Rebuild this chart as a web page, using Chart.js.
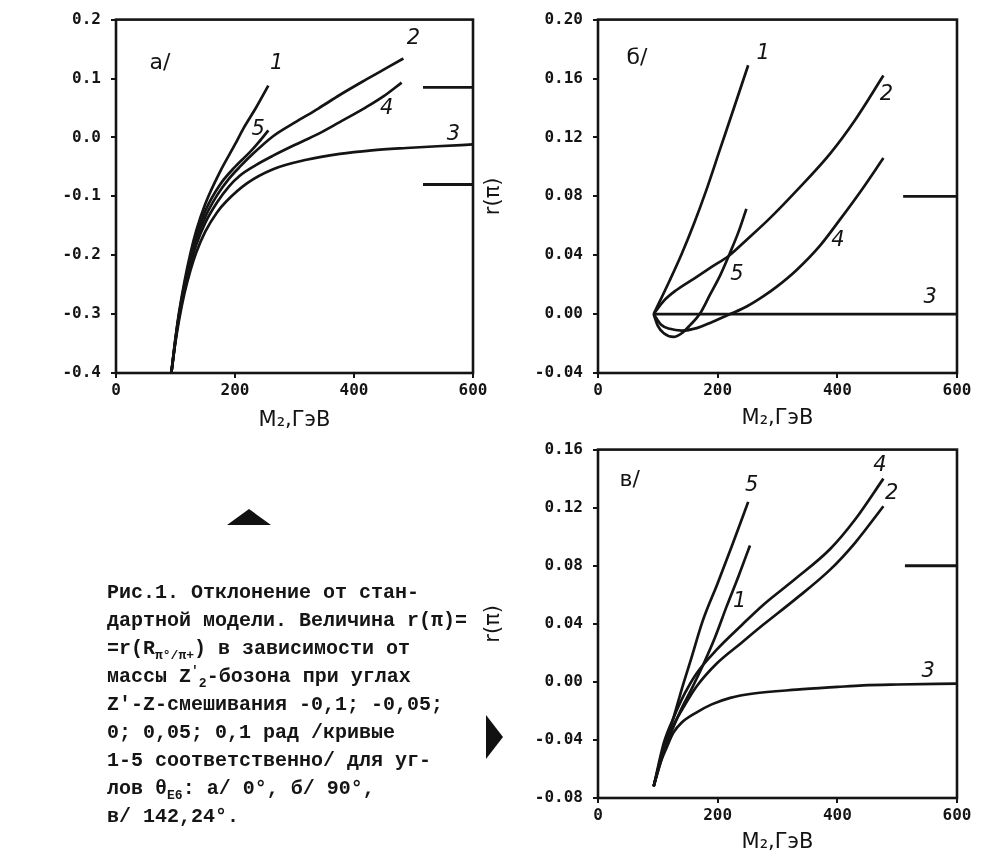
<!DOCTYPE html>
<html><head><meta charset="utf-8">
<script src="https://cdn.jsdelivr.net/npm/chart.js@4/dist/chart.umd.min.js"></script>
<style>
html,body{margin:0;padding:0;background:#fff;}
body{width:984px;height:860px;position:relative;overflow:hidden;}
canvas{position:absolute;}
.cap{position:absolute;left:107px;top:579px;font-family:"Liberation Mono",monospace;font-weight:bold;font-size:20px;line-height:28px;color:#151515;white-space:pre;}
.cap sub,.cap sup{font-size:13px;line-height:0;}
.triU{position:absolute;left:227px;top:509px;width:0;height:0;border-left:22px solid transparent;border-right:22px solid transparent;border-bottom:16px solid #111;}
.triR{position:absolute;left:486px;top:715px;width:0;height:0;border-top:22px solid transparent;border-bottom:22px solid transparent;border-left:17px solid #111;}
</style></head>
<body>
<canvas id="ca" width="500" height="450" style="left:0;top:0"></canvas>
<canvas id="cb" width="503" height="450" style="left:481px;top:0"></canvas>
<canvas id="cc" width="503" height="430" style="left:481px;top:430px"></canvas>
<div class="triU"></div>
<div class="triR"></div>
<div class="cap">Рис.1. Отклонение от стан-
дартной модели. Величина r(π)=
=r(R<sub>π°/π+</sub>) в зависимости от
массы Z<sup>′</sup><sub>2</sub>-бозона при углах
Z′-Z-смешивания -0,1; -0,05;
0; 0,05; 0,1 рад /кривые
1-5 соответственно/ для уг-
лов θ<sub>E6</sub>: а/ 0°, б/ 90°,
в/ 142,24°.</div>
<script>
// ---------- ticks ----------
const X_TICKS = [0, 200, 400, 600];
const Y_TICKS_A = [-0.4, -0.3, -0.2, -0.1, 0.0, 0.1, 0.2];
const Y_TICKS_B = [-0.04, 0.00, 0.04, 0.08, 0.12, 0.16, 0.20];
const Y_TICKS_C = [-0.08, -0.04, 0.00, 0.04, 0.08, 0.12, 0.16];

// ---------- panel а ----------
const a1M = [93, 100, 106, 115, 125, 135, 150, 175, 200, 214, 235, 256];
const a1R = [-0.40, -0.34, -0.297, -0.245, -0.197, -0.158, -0.113, -0.058, -0.012, 0.015, 0.05, 0.088];
const a2M = [93, 100, 106, 115, 125, 135, 150, 170, 190, 210, 231, 264, 300, 340, 376, 420, 455, 483];
const a2R = [-0.40, -0.343, -0.302, -0.254, -0.21, -0.174, -0.135, -0.098, -0.07, -0.048, -0.027, 0.002, 0.025, 0.049, 0.072, 0.098, 0.118, 0.134];
const a3M = [93, 100, 106, 115, 125, 135, 150, 170, 186, 220, 264, 320, 376, 430, 488, 540, 600];
const a3R = [-0.40, -0.347, -0.31, -0.265, -0.226, -0.195, -0.16, -0.127, -0.108, -0.078, -0.054, -0.038, -0.028, -0.022, -0.018, -0.015, -0.012];
const a4M = [93, 100, 106, 115, 125, 135, 150, 170, 190, 208, 235, 264, 300, 340, 376, 420, 450, 480];
const a4R = [-0.40, -0.345, -0.305, -0.258, -0.216, -0.182, -0.145, -0.11, -0.083, -0.065, -0.047, -0.031, -0.013, 0.006, 0.026, 0.051, 0.070, 0.093];
const a5M = [93, 100, 106, 115, 125, 135, 150, 175, 200, 225, 240, 256];
const a5R = [-0.40, -0.342, -0.30, -0.25, -0.205, -0.168, -0.125, -0.08, -0.05, -0.025, -0.008, 0.012];
const aMarkM = [516, 600];
const aMarkR = [0.085, -0.08];
const aLabText = ['1', '2', '3', '4', '5'];
const aLabM = [270, 500, 567, 455, 239];
const aLabR = [0.125, 0.167, 0.004, 0.049, 0.013];
const aPanel = ['а/', 74, 0.125];

// ---------- panel б ----------
const b1M = [93, 120, 140, 160, 180, 204, 228, 251];
const b1R = [0.0, 0.023, 0.041, 0.061, 0.083, 0.112, 0.141, 0.169];
const b2M = [93, 110, 130, 160, 190, 220, 250, 287, 330, 388, 430, 477];
const b2R = [0.0, 0.009, 0.016, 0.024, 0.032, 0.040, 0.051, 0.065, 0.083, 0.109, 0.132, 0.162];
const b3M = [93, 600];
const b3R = [0.0, 0.0];
const b4M = [93, 105, 120, 140, 165, 190, 221, 250, 276, 300, 332, 370, 404, 440, 477];
const b4R = [0.0, -0.007, -0.010, -0.0112, -0.0095, -0.0055, 0.0, 0.0055, 0.012, 0.019, 0.030, 0.046, 0.064, 0.084, 0.106];
const b5M = [93, 100, 110, 126, 140, 155, 170, 187, 205, 220, 235, 248];
const b5R = [0.0, -0.008, -0.013, -0.0155, -0.013, -0.007, 0.0, 0.013, 0.027, 0.041, 0.056, 0.0715];
const bMarkM = [510, 600];
const bMarkR = [0.08];
const bLabText = ['1', '2', '3', '4', '5'];
const bLabM = [276, 482, 555, 401, 232];
const bLabR = [0.177, 0.149, 0.011, 0.05, 0.027];
const bPanel = ['б/', 65, 0.174];

// ---------- panel в ----------
const c1M = [93, 110, 126, 140, 155, 176, 195, 215, 235, 254];
const c1R = [-0.072, -0.048, -0.031, -0.018, -0.006, 0.012, 0.030, 0.052, 0.073, 0.094];
const c2M = [93, 110, 126, 145, 165, 198, 240, 276, 330, 388, 430, 477];
const c2R = [-0.072, -0.045, -0.03, -0.016, -0.003, 0.0125, 0.027, 0.0393, 0.057, 0.0773, 0.096, 0.121];
const c3M = [93, 105, 115, 126, 140, 165, 190, 221, 260, 332, 400, 443, 500, 600];
const c3R = [-0.072, -0.055, -0.045, -0.035, -0.028, -0.021, -0.0155, -0.011, -0.008, -0.0054, -0.0035, -0.0024, -0.0018, -0.0012];
const c4M = [93, 110, 126, 145, 165, 198, 240, 276, 330, 388, 430, 477];
const c4R = [-0.072, -0.042, -0.025, -0.008, 0.006, 0.022, 0.039, 0.053, 0.071, 0.0915, 0.112, 0.140];
const c5M = [93, 110, 126, 140, 155, 175, 200, 225, 251];
const c5R = [-0.072, -0.045, -0.025, -0.005, 0.015, 0.042, 0.068, 0.095, 0.124];
const cMarkM = [513, 600];
const cMarkR = [0.08];
const cLabText = ['1', '2', '3', '4', '5'];
const cLabM = [237, 491, 552, 471, 257];
const cLabR = [0.055, 0.13, 0.007, 0.149, 0.135];
const cPanel = ['в/', 53, 0.139];

// ---------- helpers ----------
const INK = '#141414';
function curve(m, r) {
  return { data: m.map((v, i) => ({ x: v, y: r[i] })), borderColor: INK, borderWidth: 2.7,
    pointRadius: 0, fill: false, tension: 0.4, cubicInterpolationMode: 'monotone' };
}
function mark(m, r) {
  return { data: m.map(v => ({ x: v, y: r })), borderColor: INK, borderWidth: 2.8,
    pointRadius: 0, fill: false, tension: 0 };
}
const boxPlugin = {
  id: 'box',
  afterDraw(chart) {
    const { ctx, chartArea: a } = chart;
    ctx.save(); ctx.strokeStyle = INK; ctx.lineWidth = 2.6;
    ctx.strokeRect(a.left, a.top, a.right - a.left, a.bottom - a.top);
    ctx.restore();
  }
};
const labelPlugin = {
  id: 'curveLabels',
  afterDatasetsDraw(chart, args, o) {
    const { ctx, scales: { x, y } } = chart;
    ctx.save(); ctx.fillStyle = INK; ctx.textAlign = 'center'; ctx.textBaseline = 'middle';
    ctx.font = 'italic 21px "DejaVu Sans"';
    o.texts.forEach((t, i) => ctx.fillText(t, x.getPixelForValue(o.m[i]), y.getPixelForValue(o.r[i])));
    ctx.font = '22px "DejaVu Sans"';
    ctx.fillText(o.panel[0], x.getPixelForValue(o.panel[1]), y.getPixelForValue(o.panel[2]));
    ctx.restore();
  }
};
const tickFont = { family: 'DejaVu Sans Mono', weight: 'bold', size: 16 };
const titleFont = { family: 'DejaVu Sans', size: 21 };

function make(id, cfg) {
  const yTicks = cfg.yTicks;
  new Chart(document.getElementById(id), {
    type: 'line',
    data: { datasets: cfg.datasets },
    plugins: [labelPlugin, boxPlugin],
    options: {
      responsive: false, animation: false, devicePixelRatio: 1,
      layout: { padding: cfg.pad },
      plugins: { legend: { display: false }, tooltip: { enabled: false },
        curveLabels: { texts: cfg.lab[0], m: cfg.lab[1], r: cfg.lab[2], panel: cfg.panel } },
      scales: {
        x: {
          type: 'linear', min: 0, max: 600,
          afterBuildTicks: s => { s.ticks = X_TICKS.map(v => ({ value: v })); },
          afterFit: s => { s.height = cfg.xH; },
          ticks: { font: tickFont, color: INK, padding: 3, maxRotation: 0, callback: v => String(v) },
          grid: { display: true, drawOnChartArea: false, drawTicks: true, tickLength: 5, color: INK, lineWidth: 2 },
          border: { display: false },
          title: { display: true, text: 'M₂,ГэВ', font: titleFont, color: INK, padding: { top: 0, bottom: cfg.xTitlePad } }
        },
        y: {
          type: 'linear', min: yTicks[0], max: yTicks[yTicks.length - 1],
          afterBuildTicks: s => { s.ticks = yTicks.map(v => ({ value: v })); },
          afterFit: s => { s.width = cfg.yW; },
          ticks: { font: tickFont, color: INK, padding: 10, callback: v => v.toFixed(cfg.dec) },
          grid: { display: true, drawOnChartArea: false, drawTicks: true, tickLength: 5, color: INK, lineWidth: 2 },
          border: { display: false },
          title: { display: cfg.yTitle, text: 'r(π)', font: { family: 'DejaVu Sans', size: 21 }, color: INK, padding: 0 }
        }
      }
    }
  });
}

make('ca', {
  yTicks: Y_TICKS_A, dec: 1, yW: 116, xH: 77, xTitlePad: 17, yTitle: false,
  pad: { left: 0, right: 27, top: 17, bottom: 0 },
  datasets: [curve(a1M, a1R), curve(a2M, a2R), curve(a3M, a3R), curve(a4M, a4R), curve(a5M, a5R),
    mark(aMarkM, aMarkR[0]), mark(aMarkM, aMarkR[1])],
  lab: [aLabText, aLabM, aLabR], panel: aPanel
});
make('cb', {
  yTicks: Y_TICKS_B, dec: 2, yW: 117, xH: 77, xTitlePad: 19, yTitle: true,
  pad: { left: 0, right: 27, top: 15, bottom: 0 },
  datasets: [curve(b1M, b1R), curve(b2M, b2R), curve(b3M, b3R), curve(b4M, b4R), curve(b5M, b5R),
    mark(bMarkM, bMarkR[0])],
  lab: [bLabText, bLabM, bLabR], panel: bPanel
});
make('cc', {
  yTicks: Y_TICKS_C, dec: 2, yW: 117, xH: 62, xTitlePad: 5, yTitle: true,
  pad: { left: 0, right: 27, top: 10, bottom: 0 },
  datasets: [curve(c1M, c1R), curve(c2M, c2R), curve(c3M, c3R), curve(c4M, c4R), curve(c5M, c5R),
    mark(cMarkM, cMarkR[0])],
  lab: [cLabText, cLabM, cLabR], panel: cPanel
});
</script>
</body></html>
